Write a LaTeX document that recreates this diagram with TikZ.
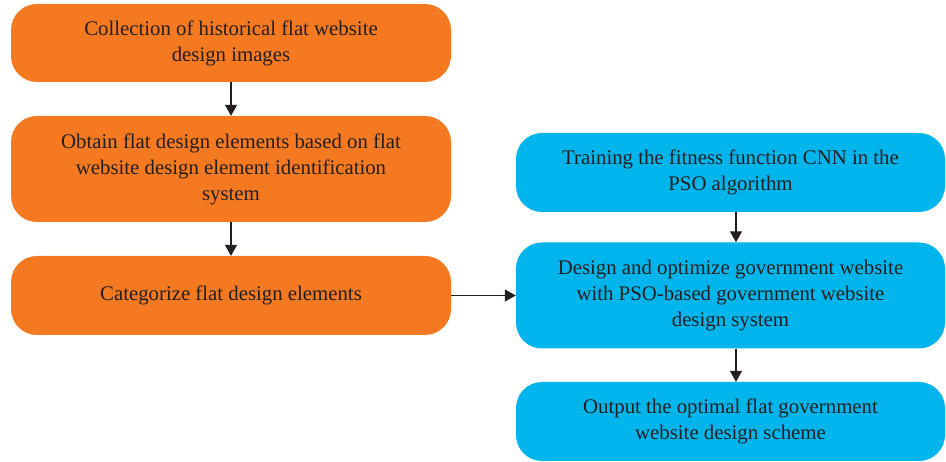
\documentclass[tikz,border=0pt]{standalone}
\usepackage{fontspec}
\setmainfont{Liberation Serif}
\usetikzlibrary{arrows.meta}
\definecolor{flatorange}{HTML}{F47920}
\definecolor{flatblue}{HTML}{00B4EC}
\definecolor{inkgray}{HTML}{231F20}
\begin{document}
\begin{tikzpicture}[x=1pt,y=1pt,
  stagebox/.style={rounded corners=26pt, inner sep=0pt, align=center,
    text=inkgray, font=\fontsize{20.8}{26}\selectfont},
  orangebox/.style={stagebox, fill=flatorange},
  bluebox/.style={stagebox, fill=flatblue},
  flow/.style={draw=inkgray, line width=1.2pt, -{Triangle[length=11pt,width=12pt]}}]
\useasboundingbox (0,0) rectangle (946,-462);
% left column: collecting and categorising the flat design elements
\node[orangebox, minimum width=440pt, minimum height=78pt] (collect) at (231,-43)
  {Collection of historical flat website\\design images};
\node[orangebox, minimum width=440pt, minimum height=106pt] (obtain) at (231,-169)
  {Obtain flat design elements based on flat\\website design element identification\\system};
\node[orangebox, minimum width=440pt, minimum height=79pt] (categ) at (231,-295.5)
  {Categorize flat design elements};
% right column: PSO-based design
\node[bluebox, minimum width=429pt, minimum height=79pt] (train) at (730.5,-172.5)
  {Training the fitness function CNN in the\\PSO algorithm};
\node[bluebox, minimum width=429pt, minimum height=106pt] (design) at (730.5,-295.5)
  {Design and optimize government website\\with PSO-based government website\\design system};
\node[bluebox, minimum width=429pt, minimum height=79pt] (output) at (730.5,-421.5)
  {Output the optimal flat government\\website design scheme};
% connectors
\draw[flow] (collect.south) -- (obtain.north);
\draw[flow] (obtain.south) -- (categ.north);
\draw[flow] (categ.east) -- (categ.east -| design.west);
\draw[flow] (train.south -| 736,0) -- (design.north -| 736,0);
\draw[flow] (design.south -| 736,0) -- (output.north -| 736,0);
\end{tikzpicture}
\end{document}
